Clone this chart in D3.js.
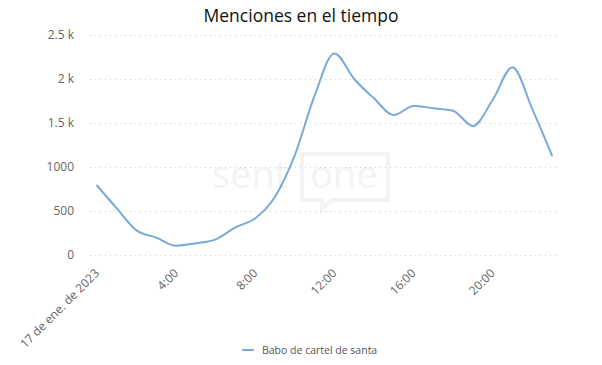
<!DOCTYPE html>
<html lang="es">
<head>
    <meta charset="UTF-8">
    <script src="https://d3js.org/d3.v7.min.js"></script>
    <style>
        body { margin: 0; background: #fff; }
        text { font-family: "Open Sans", sans-serif; }
    </style>
</head>
<body>
    <div id="chart"></div>

    <script>
        // hourly mentions, 17 Jan 2023
        var hours = d3.range(0, 24);
        var mentions = [790, 530, 280, 197, 106, 133, 178, 315, 417, 663, 1136, 1810,
                        2290, 2000, 1780, 1590, 1693, 1667, 1640, 1466, 1761, 2133, 1660, 1130];
        var yTicks = [0, 500, 1000, 1500, 2000, 2500];
        var yTickLabels = ["0", "500", "1000", "1.5 k", "2 k", "2.5 k"];
        var xTicks = [0, 4, 8, 12, 16, 20];
        var xTickLabels = ["17 de ene. de 2023", "4:00", "8:00", "12:00", "16:00", "20:00"];
        var seriesName = "Babo de cartel de santa";
        var title = "Menciones en el tiempo";

        var width = 602, height = 365;
        var lineColor = "#78aad8";

        var svg = d3.select("#chart")
            .append("svg")
            .attr("width", width)
            .attr("height", height);

        var x = d3.scaleLinear()
            .domain([0, 23])
            .range([97, 552]);

        var y = d3.scaleLinear()
            .domain([0, 2500])
            .range([255, 35]);

        // title
        svg.append("text")
            .attr("x", 301)
            .attr("y", 22)
            .attr("text-anchor", "middle")
            .style("font-size", "17.5px")
            .style("fill", "#111")
            .text(title);

        // watermark
        var wm = svg.append("g");
        wm.append("text")
            .attr("x", 212)
            .attr("y", 188)
            .style("font-size", "38px")
            .style("fill", "#f3f3f3")
            .text("sent");
        wm.append("path")
            .attr("d", "M302,154 H388 V200 H332 L322,209 L322,200 H302 Z")
            .attr("fill", "none")
            .attr("stroke", "#f3f3f3")
            .attr("stroke-width", 4);
        wm.append("text")
            .attr("x", 310)
            .attr("y", 188)
            .style("font-size", "38px")
            .style("fill", "#f3f3f3")
            .text("one");

        // grid lines
        svg.append("g")
            .selectAll("line")
            .data(yTicks)
            .enter().append("line")
            .attr("x1", 90)
            .attr("x2", 557)
            .attr("y1", function (d) { return y(d) + 0.5; })
            .attr("y2", function (d) { return y(d) + 0.5; })
            .attr("stroke", "#cfcfcf")
            .attr("stroke-width", 1)
            .attr("stroke-dasharray", "1,4");

        // y labels
        svg.append("g")
            .selectAll("text")
            .data(yTicks)
            .enter().append("text")
            .attr("x", 74)
            .attr("y", function (d) { return y(d) + 4; })
            .attr("text-anchor", "end")
            .style("font-size", "12px")
            .style("fill", "#666")
            .text(function (d, i) { return yTickLabels[i]; });

        // x labels, rotated
        svg.append("g")
            .selectAll("text")
            .data(xTicks)
            .enter().append("text")
            .attr("transform", function (d) { return "translate(" + (x(d) + 3) + ",274) rotate(-45)"; })
            .attr("text-anchor", "end")
            .style("font-size", "12px")
            .style("fill", "#666")
            .text(function (d, i) { return xTickLabels[i]; });

        // series
        var line = d3.line()
            .x(function (d, i) { return x(hours[i]); })
            .y(function (d) { return y(d); })
            .curve(d3.curveMonotoneX);

        svg.append("path")
            .datum(mentions)
            .attr("d", line)
            .attr("fill", "none")
            .attr("stroke", lineColor)
            .attr("stroke-width", 2)
            .attr("stroke-linejoin", "round")
            .attr("stroke-linecap", "round");

        // legend
        var legend = svg.append("g").attr("transform", "translate(242,350)");
        legend.append("line")
            .attr("x1", 0)
            .attr("x2", 12)
            .attr("stroke", lineColor)
            .attr("stroke-width", 2);
        legend.append("text")
            .attr("x", 20)
            .attr("y", 4)
            .style("font-size", "10.5px")
            .style("fill", "#555")
            .text(seriesName);
    </script>
</body>
</html>
